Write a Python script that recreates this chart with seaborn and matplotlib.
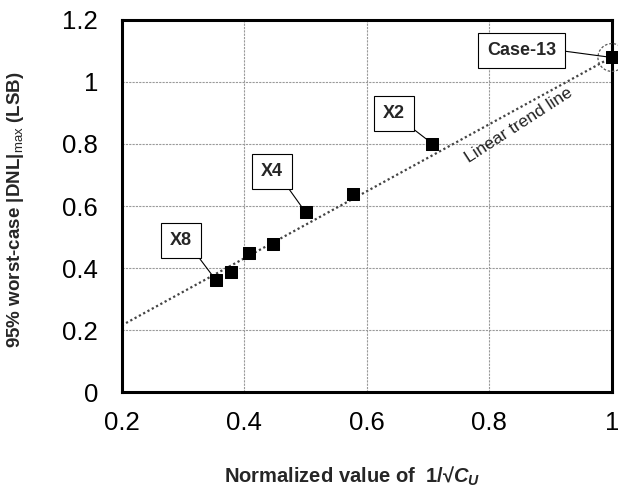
import matplotlib
matplotlib.use("Agg")
import matplotlib.pyplot as plt
import numpy as np
import seaborn as sns

# values
x_norm = [0.354, 0.378, 0.408, 0.447, 0.500, 0.577, 0.707, 1.000]
dnl_max = [0.36, 0.386, 0.447, 0.476, 0.580, 0.638, 0.801, 1.079]
trend_x = [0.2, 1.0]
trend_y = [0.215, 1.08]

labels = ["X8", "X4", "X2", "Case-13"]
label_idx = [0, 4, 6, 7]
label_pos = [(0.297, 0.490), (0.445, 0.710), (0.644, 0.897), (0.853, 1.103)]

sns.set_theme(style="whitegrid")
plt.rcParams["font.family"] = ["Liberation Sans", "DejaVu Sans"]
plt.rcParams["mathtext.fontset"] = "custom"
plt.rcParams["mathtext.rm"] = "Liberation Sans"
plt.rcParams["mathtext.it"] = "Liberation Sans:italic:bold"
plt.rcParams["mathtext.bf"] = "Liberation Sans:bold"

fig = plt.figure(figsize=(6.18, 4.87), dpi=100)
ax = fig.add_axes([0.197, 0.195, 0.793, 0.764])

ax.grid(True, color="#9a9a9a", linestyle=(0, (2, 1)), linewidth=0.8)
ax.set_facecolor("white")

sns.lineplot(x=trend_x, y=trend_y, ax=ax, color="#444444",
             linestyle=(0, (1, 1.2)), linewidth=1.6, zorder=2)
sns.scatterplot(x=x_norm, y=dnl_max, ax=ax, marker="s", s=85,
                color="black", edgecolor="black", zorder=3, clip_on=False)

# dashed circle round Case-13
ax.scatter([x_norm[-1]], [dnl_max[-1]], s=400, facecolor="none",
           edgecolor="#555555", linewidth=0.9, linestyle=(0, (2, 1.5)),
           zorder=4, clip_on=False)

for lab, i, (bx, by) in zip(labels, label_idx, label_pos):
    rel = (1, 0.5) if lab == "Case-13" else (1, 0)
    ax.annotate(lab, xy=(x_norm[i], dnl_max[i]), xytext=(bx, by),
                ha="center", va="center", fontsize=13, fontweight="bold",
                bbox=dict(boxstyle="square,pad=0.5", fc="white",
                          ec="black", lw=0.8),
                arrowprops=dict(arrowstyle="-", color="black", lw=0.8,
                                relpos=rel, shrinkA=0, shrinkB=4),
                zorder=5)

ax.text(0.848, 0.86, "Linear trend line", rotation=33, fontsize=12.5,
        ha="center", va="center", rotation_mode="anchor", color="#222222")

ax.set_xlim(0.2, 1.0)
ax.set_ylim(0, 1.2)
ax.set_xticks([0.2, 0.4, 0.6, 0.8, 1.0])
ax.set_yticks([0, 0.2, 0.4, 0.6, 0.8, 1.0, 1.2])
ax.xaxis.set_major_formatter(matplotlib.ticker.FormatStrFormatter("%g"))
ax.yaxis.set_major_formatter(matplotlib.ticker.FormatStrFormatter("%g"))
ax.tick_params(axis="both", labelsize=18.5, colors="black", length=0)
ax.tick_params(axis="y", pad=17)
ax.tick_params(axis="x", pad=14)

for sp in ax.spines.values():
    sp.set_color("black")
    sp.set_linewidth(2.2)

ax.set_xlabel(r"Normalized value of  1/√$C_U$", fontsize=14.5,
              fontweight="bold")
ax.xaxis.set_label_coords(0.469, -0.196)
ax.set_ylabel(r"95% worst-case |DNL|$_{\rm max}$ (LSB)", fontsize=13.5,
              fontweight="bold")
ax.yaxis.set_label_coords(-0.196, 0.489)

fig.savefig("out.png", dpi=100)
